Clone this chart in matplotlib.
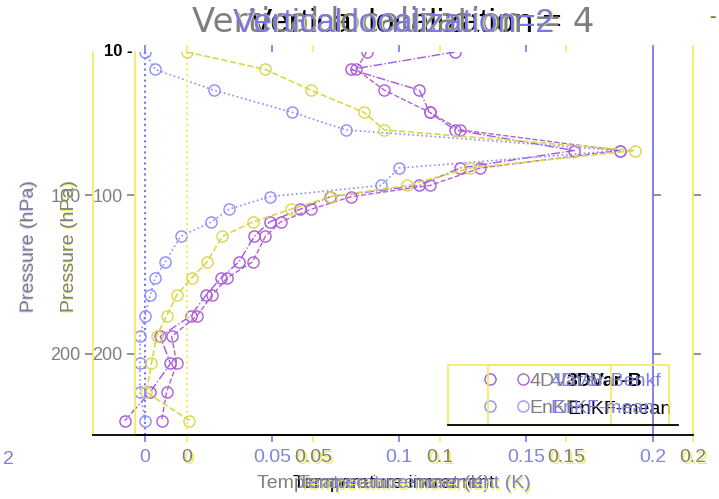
import matplotlib
matplotlib.use("Agg")
import matplotlib.pyplot as plt
from matplotlib.lines import Line2D

plt.rcParams['font.family'] = ['Liberation Sans', 'DejaVu Sans']

# pressure levels (hPa)
levels = [10, 21, 34, 48, 59, 72, 83, 94, 101, 109, 117, 126, 142, 152, 163, 176, 189, 206, 224, 242]

# temperature increments (K), first panel
incr_4dvar_b = [0.122, 0.081, 0.108, 0.112, 0.122, 0.169, 0.124, 0.108, 0.073, 0.061,
                0.049, 0.043, 0.037, 0.030, 0.024, 0.018, 0.006, 0.010, 0.002, -0.008]
incr_enkf = [0.0, 0.004, 0.027, 0.058, 0.079, 0.187, 0.100, 0.093, 0.049, 0.033,
             0.026, 0.014, 0.008, 0.004, 0.002, 0.0, -0.002, -0.002, -0.002, 0.0]

# temperature increments (K), second panel
incr_4dvar_benkf = [0.071, 0.067, 0.078, 0.096, 0.108, 0.171, 0.116, 0.096, 0.065, 0.049,
                    0.037, 0.031, 0.026, 0.016, 0.010, 0.004, -0.006, -0.004, -0.008, -0.010]
incr_enkf_mean = [0.0, 0.031, 0.049, 0.070, 0.078, 0.177, 0.112, 0.087, 0.057, 0.041,
                  0.026, 0.014, 0.008, 0.002, -0.004, -0.008, -0.012, -0.014, -0.016, 0.001]

xticks = [0, 0.05, 0.1, 0.15, 0.2]
xticklabels = ['0', '0.05', '0.1', '0.15', '0.2']
yticks = [100, 200]

W, H = 719, 499
fig = plt.figure(figsize=(W / 100, H / 100), dpi=100)
fig.patch.set_facecolor('white')

YEL = '#f2ee5a'
BLUE = '#7676f4'
GREY = '#7f7f7f'
PURPLE = '#a556e0'


def rect(left, top, right, bottom):
    return [left / W, 1 - bottom / H, (right - left) / W, (bottom - top) / H]


def fx(x):
    return x / W


def fy(y):
    return 1 - y / H


def text2(x, y, s, color, shade, dx=1.5, dy=1.0, **kw):
    # a faint offset copy under the main text
    fig.text(fx(x + dx), fy(y + dy), s, color=shade, **kw)
    fig.text(fx(x), fy(y), s, color=color, **kw)


def setup(ax, left_col, right_col, tick_col):
    ax.set_facecolor('none')
    ax.set_xlim(-0.0205, 0.2)
    ax.set_ylim(251, 10)
    ax.spines['top'].set_visible(False)
    ax.spines['left'].set_color(left_col)
    ax.spines['right'].set_color(right_col)
    ax.spines['bottom'].set_color('black')
    for s in ax.spines.values():
        s.set_linewidth(1.3)
    ax.set_xticks(xticks)
    ax.set_xticklabels([])
    ax.set_yticks(yticks)
    ax.tick_params(axis='x', direction='out', length=5, width=1.2, color=tick_col, top=True)
    ax.tick_params(axis='y', direction='out', length=6, width=1.2, color=GREY,
                   right=True, labelcolor=GREY, labelsize=13, pad=3)


def marker_only(col):
    return Line2D([], [], ls='none', marker='o', ms=8, mfc='none', mec=col, mew=1)


# black texts sit underneath everything else
fig.text(fx(250), fy(23), 'Vertical localization =', fontsize=24, color='black', va='center', zorder=-5)
fig.text(fx(293), fy(484), 'Temperature increment', fontsize=14, color='black', va='center', zorder=-5)
fig.text(fx(567), fy(382), '3DVar-B', fontsize=14, color='black', fontweight='bold', va='center', zorder=-5)
fig.text(fx(567), fy(410), 'EnKF-mean', fontsize=14, color='black', va='center', zorder=-5)

# first panel
ax1 = fig.add_axes(rect(93, 52, 653, 435))
setup(ax1, YEL, BLUE, BLUE)
ax1.axvline(0, color=BLUE, ls=':', lw=1.5)
l1, = ax1.plot(incr_4dvar_b, levels, ls='-.', color=PURPLE, lw=1, marker='o', ms=8, mfc='none', mew=1)
l2, = ax1.plot(incr_enkf, levels, ls=':', color='#8c8cff', lw=1.2, marker='o', ms=8, mfc='none', mew=1)
ax1.set_yticklabels(['100', '200'])

# second panel, drawn on top with a small offset
ax2 = fig.add_axes(rect(135, 52, 693, 435))
setup(ax2, YEL, YEL, YEL)
ax2.axvline(0, color=YEL, ls=':', lw=1.5)
l3, = ax2.plot(incr_4dvar_benkf, levels, ls='--', color='#b060d0', lw=1, marker='o', ms=8, mfc='none', mew=1)
l4, = ax2.plot(incr_enkf_mean, levels, ls='--', color='#d8d84a', lw=1.2, marker='o', ms=8, mfc='none', mew=1)
ax2.set_yticklabels(['100', '200'])

# x tick labels of both panels
for ax, col, shade in [(ax1, '#8585d8', 'white'), (ax2, GREY, YEL)]:
    for v, s in zip(xticks, xticklabels):
        x_px = ax.transData.transform((v, 10))[0]
        text2(x_px, 458, s, col, shade, fontsize=14, ha='center', va='center')

leg1 = ax1.legend([marker_only(PURPLE), marker_only('#8c8cff')], ['4DVar-B', 'EnKF'], loc='lower left',
                  bbox_to_anchor=(fx(448), fy(425)), bbox_transform=fig.transFigure,
                  fontsize=14, labelcolor=GREY, handlelength=3.5, handletextpad=0.3, borderaxespad=0,
                  fancybox=False, facecolor='none', framealpha=1, edgecolor=YEL)
leg1.get_frame().set_linewidth(1.2)
leg2 = ax2.legend([marker_only('#b060d0'), marker_only('#9a9aff')], ['4DVar-Benkf', 'EnKF-mean'],
                  loc='lower left', bbox_to_anchor=(fx(488), fy(425)), bbox_transform=fig.transFigure,
                  fontsize=14, labelcolor='#8080e0', handlelength=2.8, handletextpad=0.0, borderaxespad=0,
                  fancybox=False, facecolor='none', framealpha=1, edgecolor=YEL)
leg2.get_frame().set_linewidth(1.2)
fig.add_artist(Line2D([fx(448), fx(678)], [fy(425), fy(425)], color='black', lw=1.3,
                      transform=fig.transFigure))

# titles
fig.text(fx(192), fy(23), 'Vertical localization = 4', fontsize=24.5, color=GREY, va='center',
         family='DejaVu Sans')
text2(233, 23, 'Vertical localization=2', '#7878ee', YEL, fontsize=24, va='center')

# axis labels
fig.text(fx(373), fy(484), 'Temperature increment (K)', fontsize=14, color=GREY, ha='center', va='center')
text2(414, 484, 'Temperature increment (K)', '#8080e0', YEL, fontsize=14, ha='center', va='center')
text2(30, 246, 'Pressure (hPa)', GREY, '#c4c4ff', dx=-1, fontsize=14, rotation=90, ha='center', va='center')
text2(70, 246, 'Pressure (hPa)', GREY, YEL, dx=-1, fontsize=14, rotation=90, ha='center', va='center')

# stray labels
fig.text(fx(133), fy(52), '10 -', fontsize=12, color='black', fontweight='bold', ha='right', va='center')
fig.text(fx(8), fy(460), '2', fontsize=14, color='#8080d8', ha='center', va='center')
fig.text(fx(713), fy(18), '-', fontsize=14, color='#6b7a2a', fontweight='bold', ha='center', va='center')

fig.savefig('out.png', dpi=100)
